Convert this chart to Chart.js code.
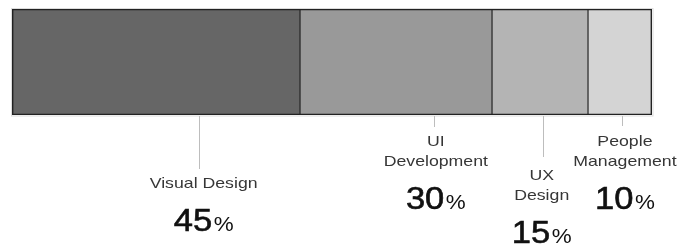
<!DOCTYPE html>
<html>
<head>
<meta charset="utf-8">
<script src="https://cdn.jsdelivr.net/npm/chart.js@4/dist/chart.umd.min.js"></script>
<style>
  html, body { margin: 0; padding: 0; background: #ffffff; }
  #wrap { position: relative; width: 690px; height: 246px; }
</style>
</head>
<body>
<div id="wrap"><canvas id="c" width="690" height="246"></canvas></div>
<script>
// ---- data ----
const categories = ['Visual Design', 'UI Development', 'UX Design', 'People Management'];
const labelLines = [['Visual Design'], ['UI', 'Development'], ['UX', 'Design'], ['People', 'Management']];
const shares = [45, 30, 15, 10];
const valueSuffix = '%';

// ---- styles ----
const fills = ['#666666', '#999999', '#b4b4b4', '#d4d4d4'];
const outer = 1.7, inner = 0.9;

const datasets = categories.map((name, i) => ({
  label: name,
  data: [shares[i]],
  backgroundColor: fills[i],
  borderColor: '#222222',
  borderWidth: {
    top: outer, bottom: outer,
    left: i === 0 ? outer : inner,
    right: i === categories.length - 1 ? outer : inner
  },
  borderSkipped: false,
  barPercentage: 1,
  categoryPercentage: 1
}));

const calloutPlugin = {
  id: 'callouts',
  beforeDatasetsDraw(chart) {
    const { ctx, chartArea: a } = chart;
    ctx.save();
    ctx.strokeStyle = '#dcdcdc';
    ctx.lineWidth = 1;
    ctx.strokeRect(a.left - 0.5, a.top - 0.5, a.right - a.left + 1.5, a.bottom - a.top + 1.5);
    ctx.restore();
  },
  afterDatasetsDraw(chart, args, opts) {
    const { ctx } = chart;
    ctx.save();
    chart.data.datasets.forEach((ds, i) => {
      const el = chart.getDatasetMeta(i).data[0];
      const left = Math.min(el.base, el.x), right = Math.max(el.base, el.x);
      const bottom = el.y + el.height / 2;
      const lx = left + opts.anchorFrac[i] * (right - left);
      const cx = lx + opts.textShift[i];
      // leader line
      ctx.strokeStyle = '#bdbdbd';
      ctx.lineWidth = 1;
      ctx.beginPath();
      ctx.moveTo(Math.round(lx) + 0.5, bottom + 1);
      ctx.lineTo(Math.round(lx) + 0.5, bottom + opts.lineLen[i]);
      ctx.stroke();
      // label lines
      let y = bottom + opts.textDrop[i];
      ctx.fillStyle = '#363636';
      ctx.font = '15px "Liberation Sans", Arial, sans-serif';
      ctx.textAlign = 'center';
      ctx.textBaseline = 'alphabetic';
      labelLines[i].forEach((line, k) => {
        if (k > 0) y += 20;
        ctx.save();
        ctx.translate(cx, y);
        ctx.scale(1.18, 1);
        ctx.fillText(line, 0, 0);
        ctx.restore();
      });
      // value
      y += 43;
      const num = String(ds.data[0]);
      const nFont = '32px "Liberation Sans", Arial, sans-serif';
      const pFont = '20px "Liberation Sans", Arial, sans-serif';
      ctx.font = nFont;
      const wn = ctx.measureText(num).width * 1.08;
      ctx.font = pFont;
      const wp = ctx.measureText(valueSuffix).width * 1.12;
      const gap = 1.5;
      const x0 = cx - (wn + gap + wp) / 2;
      ctx.textAlign = 'left';
      ctx.fillStyle = '#111111';
      ctx.strokeStyle = '#111111';
      ctx.lineWidth = 0.6;
      ctx.save();
      ctx.translate(x0, y);
      ctx.scale(1.08, 1);
      ctx.font = nFont;
      ctx.fillText(num, 0, 0);
      ctx.strokeText(num, 0, 0);
      ctx.restore();
      ctx.save();
      ctx.translate(x0 + wn + gap, y);
      ctx.scale(1.12, 1);
      ctx.font = pFont;
      ctx.fillText(valueSuffix, 0, 0);
      ctx.restore();
    });
    ctx.restore();
  }
};

new Chart(document.getElementById('c'), {
  type: 'bar',
  data: { labels: [''], datasets },
  options: {
    indexAxis: 'y',
    responsive: false,
    animation: false,
    layout: { padding: { left: 12, right: 38, top: 9, bottom: 131 } },
    scales: {
      x: { stacked: true, min: 0, max: 100, display: false },
      y: { stacked: true, display: false }
    },
    plugins: {
      legend: { display: false },
      tooltip: { enabled: false },
      callouts: {
        anchorFrac: [0.648, 0.697, 0.528, 0.53],
        textShift: [5, 2, -1, 3],
        lineLen: [54, 12, 42, 11],
        textDrop: [73, 31, 65, 31]
      }
    }
  },
  plugins: [calloutPlugin]
});
</script>
</body>
</html>
